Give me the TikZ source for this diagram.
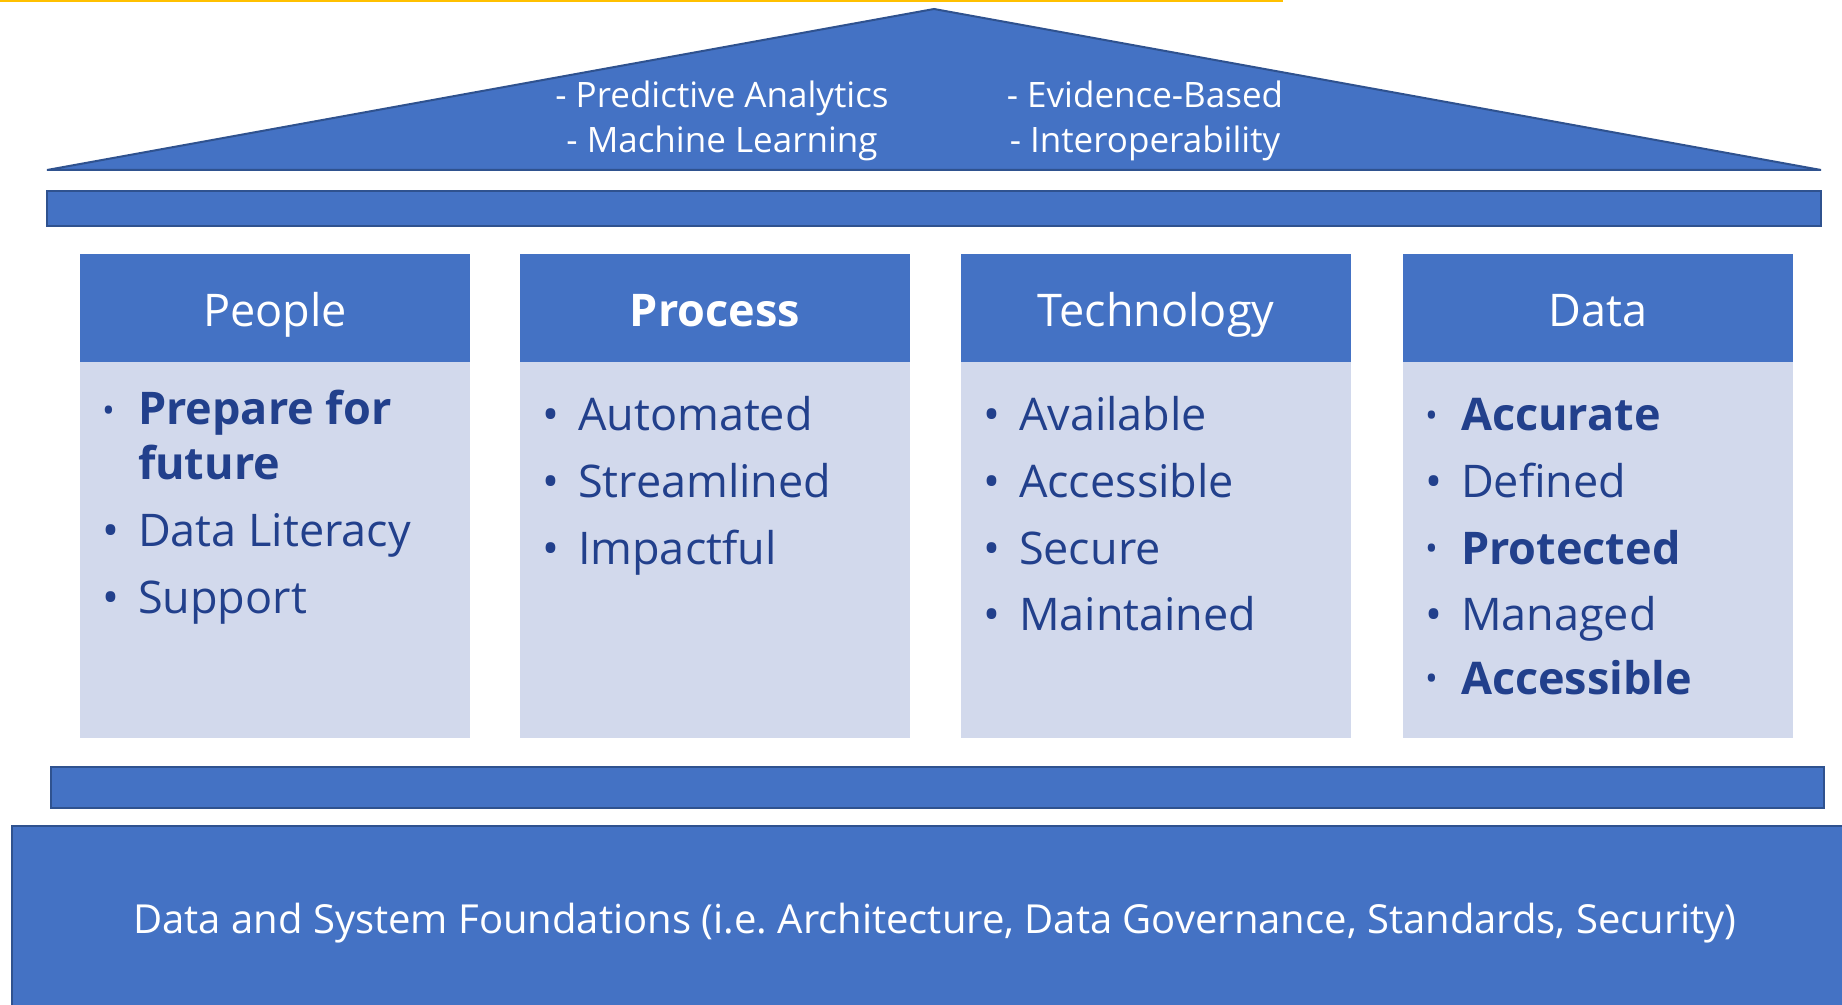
\documentclass[tikz,border=0pt]{standalone}
\usepackage{fontspec}
\setmainfont{Open Sans}
\usetikzlibrary{positioning}

\definecolor{pillarblue}{HTML}{4472C4}
\definecolor{edgeblue}{HTML}{2F528F}
\definecolor{paleblue}{HTML}{D2D9EC}
\definecolor{inkblue}{HTML}{22408C}
\definecolor{goldline}{HTML}{FFC000}

\newcommand{\bul}{\textbullet}
\newcommand{\bbul}{\raisebox{1.5pt}{\fontsize{17}{17}\selectfont\textbullet}}

\begin{document}
\frenchspacing
\begin{tikzpicture}[x=0.5pt,y=-0.5pt,
      every node/.style = {inner sep=0pt, outer sep=0pt},
      slab/.style = {fill=pillarblue, draw=edgeblue, line width=1pt},
      head/.style = {rectangle, fill=pillarblue, text=white, anchor=north west,
        minimum width=195pt, minimum height=54pt,
        text height=19pt, text depth=0pt,
        font=\fontsize{22.5}{27}\selectfont},
      body/.style = {rectangle, fill=paleblue,
        minimum width=195pt, minimum height=188pt},
      items/.style = {anchor=base west, text=inkblue,
        font=\fontsize{22.5}{27.5}\selectfont},
      rooftext/.style = {anchor=base, text=white,
        font=\fontsize{17.5}{22.5}\selectfont},
      groundtext/.style = {text=white, font=\fontsize{20}{24}\selectfont}]
  \useasboundingbox (0,0) rectangle (1842,1005);

  % gold rule at the very top
  \coordinate (goldL) at (0,1);
  \coordinate (goldR) at (1283,1);
  \draw[goldline, line width=1.2pt] (goldL) -- (goldR);

  % roof and beams
  \coordinate (eaveL) at (47,170);
  \coordinate (apex) at (934,9);
  \coordinate (eaveR) at (1821,170);
  \draw[slab, line join=miter] (eaveL) -- (apex) -- (eaveR) -- cycle;
  \draw[slab] (47,191) rectangle (1821,226);
  \draw[slab] (51,767) rectangle (1824,808);
  \draw[slab] (12,826) rectangle (1846,1010);

  \node[rooftext] (predict) at (722,108)
    {\begin{tabular}[t]{@{}c@{}}- Predictive Analytics\\- Machine Learning\end{tabular}};
  \node[rooftext] (evidence) at (1145,108)
    {\begin{tabular}[t]{@{}c@{}}- Evidence-Based\\- Interoperability\end{tabular}};

  % pillars
  \node[head] (hPeople) at (80,254) {People};
  \node[body, below=0pt of hPeople] (bPeople) {};
  \node[items] (tPeople) at (102,425)
    {\begin{tabular}[t]{@{}p{18pt}@{}l@{}}
      \bbul & \textbf{Prepare for}\\
            & \textbf{future}\\[6pt]
      \bul  & Data Literacy\\[6pt]
      \bul  & Support
    \end{tabular}};

  \node[head] (hProcess) at (520,254) {\textbf{Process}};
  \node[body, below=0pt of hProcess] (bProcess) {};
  \node[items] (tProcess) at (542,430)
    {\begin{tabular}[t]{@{}p{18pt}@{}l@{}}
      \bul & Automated\\[6pt]
      \bul & Streamlined\\[6pt]
      \bul & Impactful
    \end{tabular}};

  \node[head] (hTech) at (961,254) {Technology};
  \node[body, below=0pt of hTech] (bTech) {};
  \node[items] (tTech) at (983,430)
    {\begin{tabular}[t]{@{}p{18pt}@{}l@{}}
      \bul & Available\\[6pt]
      \bul & Accessible\\[6pt]
      \bul & Secure\\[6pt]
      \bul & Maintained
    \end{tabular}};

  \node[head] (hData) at (1403,254) {Data};
  \node[body, below=0pt of hData] (bData) {};
  \node[items] (tData) at (1425,430)
    {\begin{tabular}[t]{@{}p{18pt}@{}l@{}}
      \bbul & \textbf{Accurate}\\[6pt]
      \bul  & Defined\\[6pt]
      \bbul & \textbf{Protected}\\[6pt]
      \bul  & Managed\\[4pt]
      \bbul & \textbf{Accessible}
    \end{tabular}};

  % foundation
  \node[groundtext] (ground) at (935,923)
    {Data and System Foundations (i.e. Architecture, Data Governance, Standards, Security)};
\end{tikzpicture}
\end{document}
